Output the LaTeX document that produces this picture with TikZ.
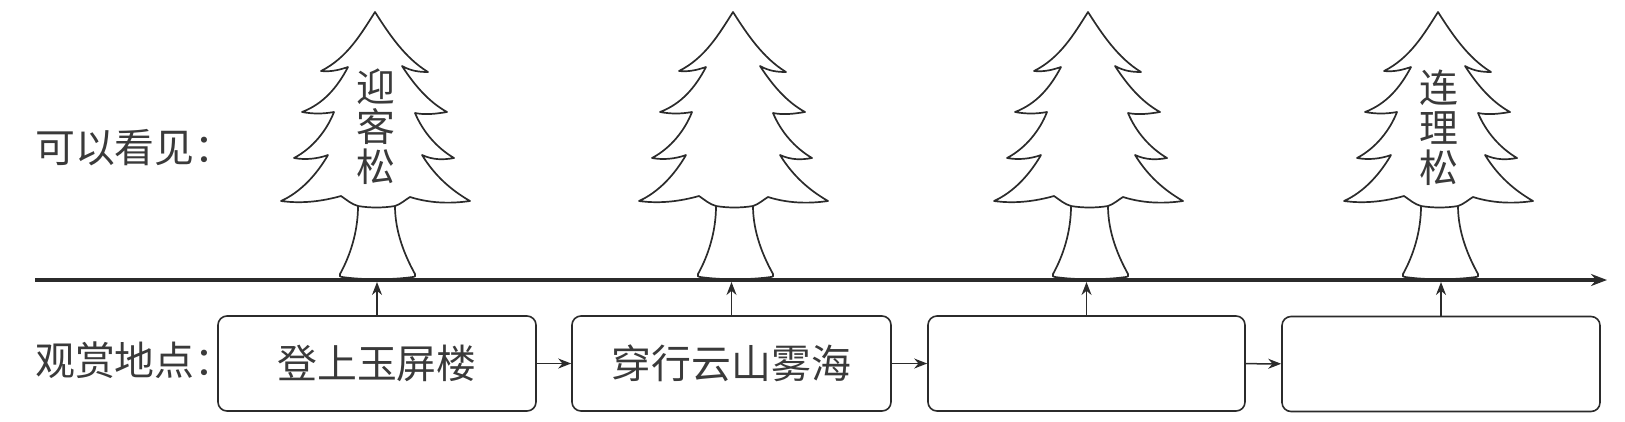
\documentclass[tikz,border=0pt]{standalone}
\usepackage{fontspec}
\setmainfont{Noto Sans CJK SC}[Scale=1]
\usetikzlibrary{arrows.meta}
\definecolor{ink}{HTML}{2B2B2B}
\definecolor{txt}{HTML}{3A3A3A}
\tikzset{
  x=1bp,y=-1bp,
  ln/.style={draw=ink,line width=1.7bp,line join=round},
  stagebox/.style={draw=ink,line width=1.6bp,rounded corners=9bp,minimum height=95bp,inner sep=0pt,text=txt,font=\fontsize{40}{40}\selectfont},
  lab/.style={inner sep=0pt,anchor=west,text=txt,font=\fontsize{40}{40}\selectfont},
  treelab/.style={inner sep=0pt,text=txt,align=center,font=\fontsize{39}{40}\selectfont},
  arr/.style={draw=ink,line width=1.5bp,-{Stealth[length=13bp,width=10bp]}},
}
\newcommand{\pinetree}[2]{%
  \coordinate (#2) at (#1,281);
  \begin{scope}[shift={(#1,0)}]
    \path[ln]
      (0,12) .. controls (-14,34) and (-28,58) .. (-54,71)
      .. controls (-44,72) and (-36,70) .. (-27,67)
      .. controls (-38,88) and (-52,104) .. (-73,112)
      .. controls (-62,114) and (-52,114) .. (-41,112)
      .. controls (-48,130) and (-62,148) .. (-81,158)
      .. controls (-70,160) and (-58,159) .. (-47,155)
      .. controls (-58,174) and (-74,192) .. (-94,201)
      .. controls (-72,204) and (-52,201) .. (-34,196)
      .. controls (-28,200) and (-24,204) .. (-17,206)
      .. controls (-5,208) and (8,208) .. (20,206)
      .. controls (26,204) and (30,200) .. (35,197)
      .. controls (54,203) and (74,204) .. (95,201)
      .. controls (76,190) and (60,176) .. (47,155)
      .. controls (58,160) and (68,160) .. (79,158)
      .. controls (62,148) and (48,132) .. (40,113)
      .. controls (50,115) and (60,114) .. (72,112)
      .. controls (54,102) and (40,86) .. (27,66)
      .. controls (36,71) and (44,72) .. (53,72)
      .. controls (30,58) and (14,34) .. (0,12) -- cycle;
    \path[ln]
      (-17,206) .. controls (-17,232) and (-25,256) .. (-35,274)
      .. controls (-36,276) and (-35,277) .. (-33,277)
      .. controls (-12,280) and (16,280) .. (38,277)
      .. controls (40,277) and (41,276) .. (40,274)
      .. controls (30,256) and (20,232) .. (20,206);
  \end{scope}}
\begin{document}
\begin{tikzpicture}
\useasboundingbox (0,0) rectangle (1625,421);
\pinetree{375}{t1}
\pinetree{733}{t2}
\pinetree{1088}{t3}
\pinetree{1438}{t4}
\coordinate (ls) at (35,280);
\coordinate (le) at (1607,280);
\draw[draw=ink,line width=3.4bp,-{Stealth[length=16bp,width=12bp]}] (ls) -- (le);
\node[stagebox,minimum width=318bp] (b1) at (377,363.5) {登上玉屏楼};
\node[stagebox,minimum width=319bp] (b2) at (731.5,363.5) {穿行云山雾海};
\node[stagebox,minimum width=317bp] (b3) at (1086.5,363.5) {};
\node[stagebox,minimum width=318bp] (b4) at (1441,364) {};
\foreach \i/\j in {1/2,2/3,3/4}{\draw[arr] (b\i) -- (b\j);}
\draw[arr] (b1.north) -- (377,282);
\draw[arr] (b2.north) -- (731.5,282);
\draw[arr] (b3.north) -- (1086.5,282);
\draw[arr] (b4.north) -- (1441,282);
\node[lab] (l1) at (35,148) {可以看见：};
\node[lab] (l2) at (35,360) {观赏地点：};
\node[treelab] (n1) at (376,127) {迎\\客\\松};
\node[treelab] (n4) at (1439,128) {连\\理\\松};
\end{tikzpicture}
\end{document}
